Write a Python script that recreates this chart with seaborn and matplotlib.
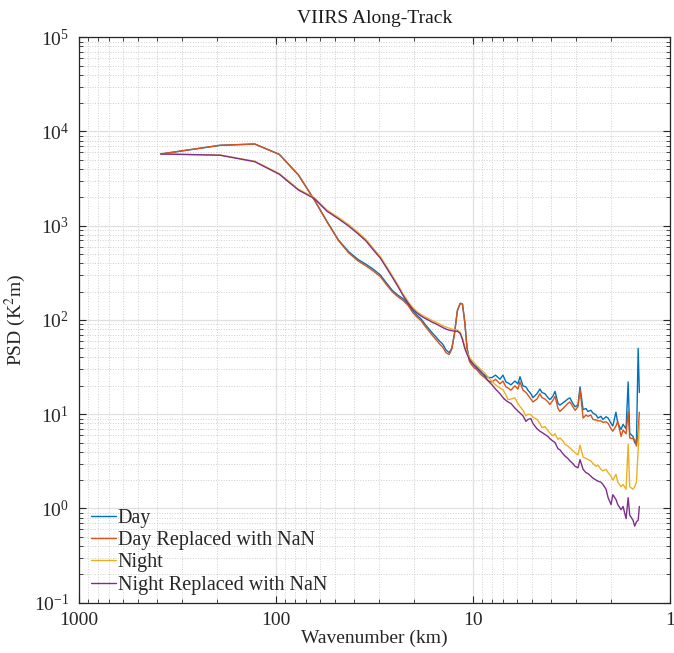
import numpy as np
import pandas as pd
import matplotlib
matplotlib.use('Agg')
import matplotlib.pyplot as plt
from matplotlib.ticker import LogLocator, FuncFormatter, NullFormatter
import seaborn as sns

sns.set_style('ticks')
plt.rcParams['font.family'] = ['Liberation Serif', 'DejaVu Serif']
plt.rcParams['mathtext.fontset'] = 'stix'

# wavelength (km), shared by all four spectra
wavelength = [384, 192, 128, 96, 76.8, 64, 54.9, 48, 42.7, 38.4, 34.9, 32, 29.5, 27.4, 25.6,
              24, 22.6, 21.3, 20.2, 19.2, 18.3, 17.5, 16.7, 16, 15.4, 14.8, 14.2, 13.7, 13.2,
              12.8, 12.4, 12, 11.6, 11.3, 11, 10.7, 10.4, 10.1, 9.85, 9.6, 9.14, 8.73, 8.35,
              8, 7.68,
              7.29, 7.04, 6.80, 6.64, 6.41, 6.12, 5.91, 5.77, 5.57, 5.38, 5.26, 5.08, 4.96,
              4.73, 4.57, 4.46, 4.31, 4.16, 4.07, 3.93, 3.83, 3.70, 3.62, 3.49, 3.41, 3.30,
              3.22, 3.11, 3.03, 2.93, 2.86, 2.76, 2.67, 2.61, 2.52, 2.46, 2.37, 2.32, 2.24,
              2.19, 2.11, 2.06, 1.99, 1.95, 1.88, 1.84, 1.77, 1.73, 1.67, 1.63, 1.60, 1.54,
              1.51, 1.48, 1.45, 1.43]

psd_day = [5770, 7130, 7360, 5710, 3450, 1900, 1100, 700, 530, 440, 390, 345, 300, 245, 205,
           183, 168, 148, 125, 112, 102, 90, 80, 72, 66, 60, 55, 48, 45, 50, 72, 125, 150,
           148, 95, 50, 38, 35, 33, 32, 28, 26, 24.5, 24.5, 26,
           23.5, 26, 22, 21.5, 20.5, 22.5, 21, 25, 20, 19.5, 18, 16.5, 15, 16.5, 18.5, 17,
           16.5, 15, 14.3, 15.5, 17.5, 13, 12.5, 13.2, 13.7, 14.5, 14.9, 13, 12, 12.5, 19.5,
           11.2, 11.5, 10.7, 11, 10.3, 9.8, 9.1, 9.5, 8.8, 9.4, 9.1, 8.0, 7.5, 10.5, 8.0,
           6.9, 7.8, 7.0, 22, 6.3, 5.8, 5.0, 4.8, 50, 17]

psd_day_nan = [5770, 7130, 7360, 5710, 3450, 1900, 1090, 690, 515, 425, 375, 330, 288, 235,
               198, 176, 161, 142, 120, 107, 98, 86, 76, 68, 62, 56, 51, 45, 43, 49, 72, 125,
               150, 148, 95, 48, 36, 33, 31, 30, 26.5, 24.5, 22.5, 22, 23.5,
               21, 22.5, 19.5, 19, 18, 20, 18.5, 22, 18, 17, 16, 14.5, 13.5, 14.5, 16.5, 15,
               14.5, 13.5, 12.7, 14, 15.5, 11.5, 10.7, 11.5, 12.1, 13, 13.5, 12, 11, 12,
               18.2, 9.1, 9.8, 9.5, 9.8, 8.8, 8.7, 8.5, 8.5, 8.2, 8.3, 8, 7, 6.6, 7.5, 8.4,
               5.8, 6.8, 6.2, 10.7, 5.6, 5.5, 5.4, 4.6, 6.6, 10.5]

psd_night = [5770, 5620, 4830, 3570, 2440, 1990, 1460, 1220, 1025, 855, 715, 572, 470, 368,
             293, 235, 188, 156, 135, 122, 114, 108, 103, 98, 95, 91, 87, 84, 82, 80, 79, 78,
             74, 64, 52, 45, 40, 37, 35, 33, 30, 27.5, 24.5, 22.3, 20.5,
             19, 18.2, 16, 14.3, 14.5, 14.9, 13, 12.1, 11, 9.6, 10, 9.9, 9.3, 8.8, 8.0, 7.2,
             7.4, 6.7, 6.3, 5.9, 6.2, 5.4, 5.6, 5.2, 4.8, 4.6, 4.4, 4.1, 3.9, 3.7, 4.7, 3.5,
             3.4, 3.3, 3.2, 3.0, 2.8, 2.9, 2.6, 2.5, 2.6, 2.4, 2.2, 2.0, 2.3, 1.9, 1.7, 1.8,
             1.6, 4.8, 1.7, 1.6, 1.7, 1.9, 4.2, 8.0]

psd_night_nan = [5770, 5600, 4780, 3510, 2390, 1950, 1420, 1180, 990, 824, 690, 552, 453,
                 355, 282, 226, 181, 150, 130, 118, 110, 104, 99, 94, 91, 87, 83, 80, 78, 77,
                 76, 76, 72, 62, 50, 43, 38, 35, 33, 31, 28.5, 25.5, 22.5, 20.5, 18.5,
                 16.5, 15, 14, 13.5, 13, 11.6, 10.8, 10.3, 9.6, 8.4, 8.8, 9.0, 8.0, 7.0, 6.6,
                 6.4, 6.1, 5.8, 5.5, 5.2, 5.0, 4.3, 4.2, 3.8, 3.6, 3.4, 3.2, 3.0, 2.8, 2.7,
                 3.3, 2.6, 2.4, 2.35, 2.2, 2.1, 2.0, 1.95, 1.9, 1.8, 1.6, 1.3, 1.1, 1.4, 1.25,
                 1.1, 0.97, 1.05, 0.78, 1.3, 0.85, 0.75, 0.65, 0.72, 0.75, 1.05]

names = ['Day', 'Day Replaced with NaN', 'Night', 'Night Replaced with NaN']
colors = ['#0072BD', '#D95319', '#EDB120', '#7E2F8E']

frames = []
for name, vals in zip(names, [psd_day, psd_day_nan, psd_night, psd_night_nan]):
    frames.append(pd.DataFrame({'wl': wavelength, 'psd': vals, 'series': name}))
df = pd.concat(frames, ignore_index=True)

fig = plt.figure(figsize=(6.74, 6.53), dpi=100)
ax = fig.add_axes([0.117, 0.077, 0.877, 0.866])

sns.lineplot(data=df, x='wl', y='psd', hue='series', hue_order=names, palette=colors,
             estimator=None, sort=False, linewidth=1.0, ax=ax, legend=False)

ax.set_xscale('log')
ax.set_yscale('log')
ax.set_xlim(1000, 1)
ax.set_ylim(1e-1, 1e5)

ax.xaxis.set_major_locator(LogLocator(base=10, numticks=10))
ax.xaxis.set_minor_locator(LogLocator(base=10, subs=np.arange(2, 10), numticks=20))
ax.yaxis.set_major_locator(LogLocator(base=10, numticks=10))
ax.yaxis.set_minor_locator(LogLocator(base=10, subs=np.arange(2, 10), numticks=20))
ax.xaxis.set_major_formatter(FuncFormatter(lambda v, p: '%g' % v))
ax.xaxis.set_minor_formatter(NullFormatter())
ax.yaxis.set_minor_formatter(NullFormatter())

ax.grid(which='major', color='#e0e0e0', linestyle='-', linewidth=0.9)
ax.grid(which='minor', color='#cfcfcf', linestyle=':', linewidth=0.7)
ax.set_axisbelow(True)
ax.tick_params(which='both', direction='in', top=True, right=True, labelsize=14, colors='#262626')
ax.tick_params(which='major', length=5, width=0.8, pad=7)
ax.tick_params(which='minor', length=3, width=0.6)
for s in ax.spines.values():
    s.set_linewidth(0.9)
    s.set_color('#262626')

ax.set_title('VIIRS Along-Track', fontsize=14, color='#1a1a1a', pad=10)
ax.set_xlabel('Wavenumber (km)', fontsize=14, color='#262626')
ax.set_ylabel('PSD (K$^2$m)', fontsize=14, color='#262626')
ax.xaxis.set_label_coords(0.5, -0.047)
ax.yaxis.set_label_coords(-0.086, 0.5)

ax.legend(ax.get_lines()[:4], names, loc='lower left', frameon=False, fontsize=14.5,
          handlelength=1.25, handletextpad=0.08, labelspacing=0.16,
          bbox_to_anchor=(-0.01, -0.018))

fig.savefig('out.png', dpi=100)
